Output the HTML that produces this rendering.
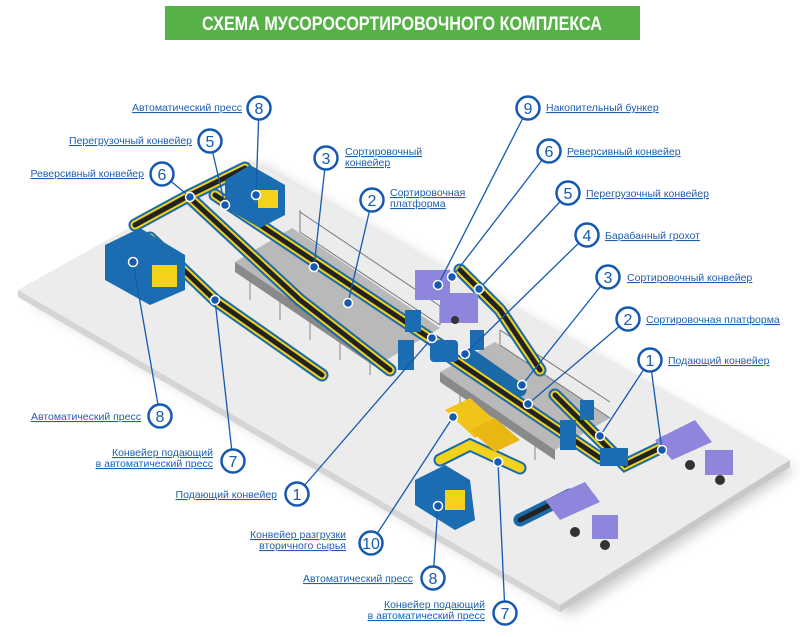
<!DOCTYPE html>
<html><head><meta charset="utf-8"><style>
body{margin:0;background:#fff;width:800px;height:637px;overflow:hidden;font-family:"Liberation Sans",sans-serif}
svg{position:absolute;left:0;top:0}
.l{font-family:"Liberation Sans",sans-serif;font-size:10.5px;fill:#1f5fb0;text-decoration:underline}
.n{font-family:"Liberation Sans",sans-serif;font-size:16px;fill:#1659b0;text-anchor:middle}
</style></head><body>
<svg width="800" height="637" viewBox="0 0 800 637">
<defs><filter id="sh" x="-10%" y="-10%" width="120%" height="130%"><feGaussianBlur stdDeviation="6"/></filter></defs>
<rect x="165" y="6" width="475" height="34" fill="#56b246"/>
<text x="402" y="30" fill="#fff" font-size="19" font-weight="bold" text-anchor="middle" font-family="Liberation Sans Narrow, Liberation Sans, sans-serif" textLength="400" lengthAdjust="spacingAndGlyphs">СХЕМА МУСОРОСОРТИРОВОЧНОГО КОМПЛЕКСА</text>
<!-- floor -->
<polygon points="30,300 570,615 795,470 260,165" fill="#999" opacity=".5" filter="url(#sh)"/>
<polygon points="18,290 560,605 560,612 18,297" fill="#d5d5d5"/>
<polygon points="560,605 790,460 790,467 560,612" fill="#c8c8c8"/>
<polygon points="18,290 250,160 790,460 560,605" fill="#ececec"/>
<!-- platforms -->
<polygon points="235,262 292,228 440,328 383,362" fill="#b9b9b9"/>
<polygon points="235,262 383,362 383,372 235,272" fill="#8a8a8a"/>
<polygon points="440,372 495,342 610,418 555,450" fill="#b9b9b9"/>
<polygon points="440,372 555,450 555,460 440,382" fill="#8a8a8a"/>
<g stroke="#777" stroke-width="1"><line x1="300" y1="232" x2="440" y2="325"/><line x1="300" y1="232" x2="300" y2="210"/><line x1="440" y1="325" x2="440" y2="305"/><line x1="300" y1="212" x2="440" y2="306"/><line x1="500" y1="345" x2="610" y2="418"/><line x1="500" y1="345" x2="500" y2="330"/><line x1="500" y1="330" x2="610" y2="402"/></g>
<g stroke="#888" stroke-width="1"><line x1="250" y1="275" x2="250" y2="300"/><line x1="280" y1="295" x2="280" y2="320"/><line x1="310" y1="315" x2="310" y2="340"/><line x1="340" y1="335" x2="340" y2="360"/><line x1="370" y1="355" x2="370" y2="375"/><line x1="460" y1="390" x2="460" y2="410"/><line x1="500" y1="415" x2="500" y2="438"/><line x1="535" y1="440" x2="535" y2="460"/></g>
<!-- conveyors -->
<g fill="none" stroke-linecap="round">
<g stroke="#1a6aa8" stroke-width="13">
<polyline points="135,225 190,195 245,168"/>
<polyline points="150,238 215,300 322,375"/>
<polyline points="190,198 300,300 390,370"/>
<polyline points="215,195 440,345"/>
<polyline points="440,350 600,458"/>
<polyline points="555,395 625,465 660,448"/>
<polyline points="460,270 500,310 540,370"/>
<polyline points="470,355 520,390"/>
<polyline points="520,520 570,495"/>
<polyline points="440,460 470,445 520,468"/>
</g>
<g stroke="#f2d21b" stroke-width="9">
<polyline points="135,225 190,195 245,168"/>
<polyline points="150,238 215,300 322,375"/>
<polyline points="190,198 300,300 390,370"/>
<polyline points="215,195 440,345"/>
<polyline points="440,350 600,458"/>
<polyline points="555,395 625,465 660,448"/>
<polyline points="460,270 500,310 540,370"/>
<polyline points="440,460 470,445 520,468"/>
</g>
<g stroke="#222" stroke-width="5">
<polyline points="135,225 190,195 245,168"/>
<polyline points="150,238 215,300 322,375"/>
<polyline points="190,198 300,300 390,370"/>
<polyline points="215,195 440,345"/>
<polyline points="440,350 600,458"/>
<polyline points="555,395 625,465 660,448"/>
<polyline points="460,270 500,310 540,370"/>
<polyline points="520,520 570,495"/>
</g>
</g>
<!-- presses / blocks -->
<g fill="#1b6cb0">
<polygon points="105,245 140,228 185,255 185,290 150,305 105,280"/>
<polygon points="225,180 250,165 285,185 285,215 260,228 225,208"/>
<polygon points="415,480 445,465 470,480 475,520 455,530 415,505"/>
<rect x="430" y="340" width="28" height="22" rx="4"/>
<rect x="560" y="420" width="16" height="30"/>
<rect x="600" y="448" width="28" height="18"/>
<rect x="398" y="340" width="16" height="30"/>
<rect x="405" y="310" width="16" height="22"/>
<rect x="580" y="400" width="14" height="20"/>
<rect x="470" y="330" width="14" height="20"/>
</g>
<g fill="#f2d21b"><rect x="152" y="265" width="25" height="22"/><rect x="258" y="190" width="20" height="18"/><rect x="445" y="490" width="20" height="20"/></g>
<polygon points="445,410 470,398 500,425 475,438" fill="#f2c419"/>
<polygon points="470,430 495,418 520,440 495,452" fill="#e8b711"/>
<!-- bunker/trucks -->
<g fill="#8e86dc"><rect x="415" y="270" width="35" height="30"/><rect x="440" y="293" width="38" height="30"/>
<polygon points="655,440 695,420 712,442 672,460"/><rect x="705" y="450" width="28" height="25"/>
<polygon points="545,500 585,482 600,502 560,520"/><rect x="592" y="515" width="26" height="24"/></g>
<g fill="#333"><circle cx="690" cy="465" r="5"/><circle cx="720" cy="480" r="5"/><circle cx="575" cy="532" r="5"/><circle cx="605" cy="545" r="5"/><circle cx="455" cy="320" r="4"/></g>
<!-- leaders -->
<g stroke="#1659b0" stroke-width="1.3">
<line x1="259" y1="108" x2="256" y2="195"/><line x1="210" y1="141" x2="225" y2="205"/><line x1="162" y1="174" x2="190" y2="197"/>
<line x1="326" y1="158" x2="314" y2="267"/><line x1="372" y1="200" x2="348" y2="303"/>
<line x1="528" y1="108" x2="438" y2="285"/><line x1="549" y1="151" x2="452" y2="277"/><line x1="568" y1="193" x2="479" y2="289"/>
<line x1="587" y1="235" x2="465" y2="354"/><line x1="608" y1="277" x2="522" y2="385"/><line x1="628" y1="319" x2="528" y2="404"/>
<line x1="650" y1="360" x2="600" y2="436"/><line x1="650" y1="360" x2="662" y2="450"/>
<line x1="160" y1="416" x2="133" y2="262"/><line x1="233" y1="461" x2="215" y2="300"/><line x1="297" y1="494" x2="432" y2="338"/>
<line x1="371" y1="543" x2="453" y2="417"/><line x1="433" y1="578" x2="438" y2="506"/><line x1="505" y1="613" x2="498" y2="462"/>
</g>
<g fill="#1659b0" stroke="#fff" stroke-width="1.5">
<circle cx="256" cy="195" r="4.5"/><circle cx="225" cy="205" r="4.5"/><circle cx="190" cy="197" r="4.5"/><circle cx="314" cy="267" r="4.5"/><circle cx="348" cy="303" r="4.5"/>
<circle cx="438" cy="285" r="4.5"/><circle cx="452" cy="277" r="4.5"/><circle cx="479" cy="289" r="4.5"/><circle cx="465" cy="354" r="4.5"/><circle cx="522" cy="385" r="4.5"/><circle cx="528" cy="404" r="4.5"/>
<circle cx="600" cy="436" r="4.5"/><circle cx="662" cy="450" r="4.5"/><circle cx="133" cy="262" r="4.5"/><circle cx="215" cy="300" r="4.5"/><circle cx="432" cy="338" r="4.5"/>
<circle cx="453" cy="417" r="4.5"/><circle cx="438" cy="506" r="4.5"/><circle cx="498" cy="462" r="4.5"/>
</g>
<g fill="#fff" stroke="#1659b0" stroke-width="2.5">
<circle cx="259" cy="108" r="11.5"/><circle cx="210" cy="141" r="11.5"/><circle cx="162" cy="174" r="11.5"/><circle cx="326" cy="158" r="11.5"/><circle cx="372" cy="200" r="11.5"/>
<circle cx="528" cy="108" r="11.5"/><circle cx="549" cy="151" r="11.5"/><circle cx="568" cy="193" r="11.5"/><circle cx="587" cy="235" r="11.5"/><circle cx="608" cy="277" r="11.5"/><circle cx="628" cy="319" r="11.5"/><circle cx="650" cy="360" r="11.5"/>
<circle cx="160" cy="416" r="11.5"/><circle cx="233" cy="461" r="11.5"/><circle cx="297" cy="494" r="11.5"/><circle cx="371" cy="543" r="11.5"/><circle cx="433" cy="578" r="11.5"/><circle cx="505" cy="613" r="11.5"/>
</g>
<g class="n">
<text x="259" y="114" class="n">8</text><text x="210" y="147" class="n">5</text><text x="162" y="180" class="n">6</text><text x="326" y="164" class="n">3</text><text x="372" y="206" class="n">2</text>
<text x="528" y="114" class="n">9</text><text x="549" y="157" class="n">6</text><text x="568" y="199" class="n">5</text><text x="587" y="241" class="n">4</text><text x="608" y="283" class="n">3</text><text x="628" y="325" class="n">2</text><text x="650" y="366" class="n">1</text>
<text x="160" y="422" class="n">8</text><text x="233" y="467" class="n">7</text><text x="297" y="500" class="n">1</text><text x="371" y="549" class="n" font-size="14">10</text><text x="433" y="584" class="n">8</text><text x="505" y="619" class="n">7</text>
</g>
<g class="l">
<text x="242" y="111" text-anchor="end" class="l">Автоматический пресс</text>
<text x="192" y="144" text-anchor="end" class="l">Перегрузочный конвейер</text>
<text x="144" y="177" text-anchor="end" class="l">Реверсивный конвейер</text>
<text x="345" y="155" class="l">Сортировочный</text><text x="345" y="166" class="l">конвейер</text>
<text x="390" y="196" class="l">Сортировочная</text><text x="390" y="207" class="l">платформа</text>
<text x="546" y="111" class="l">Накопительный бункер</text>
<text x="567" y="155" class="l">Реверсивный конвейер</text>
<text x="586" y="197" class="l">Перегрузочный конвейер</text>
<text x="605" y="239" class="l">Барабанный грохот</text>
<text x="627" y="281" class="l">Сортировочный конвейер</text>
<text x="646" y="323" class="l">Сортировочная платформа</text>
<text x="668" y="364" class="l">Подающий конвейер</text>
<text x="141" y="420" text-anchor="end" class="l">Автоматический пресс</text>
<text x="213" y="456" text-anchor="end" class="l">Конвейер подающий</text><text x="213" y="467" text-anchor="end" class="l">в автоматический пресс</text>
<text x="277" y="498" text-anchor="end" class="l">Подающий конвейер</text>
<text x="346" y="538" text-anchor="end" class="l">Конвейер разгрузки</text><text x="346" y="549" text-anchor="end" class="l">вторичного сырья</text>
<text x="413" y="582" text-anchor="end" class="l">Автоматический пресс</text>
<text x="485" y="608" text-anchor="end" class="l">Конвейер подающий</text><text x="485" y="619" text-anchor="end" class="l">в автоматический пресс</text>
</g>
</svg>
</body></html>
